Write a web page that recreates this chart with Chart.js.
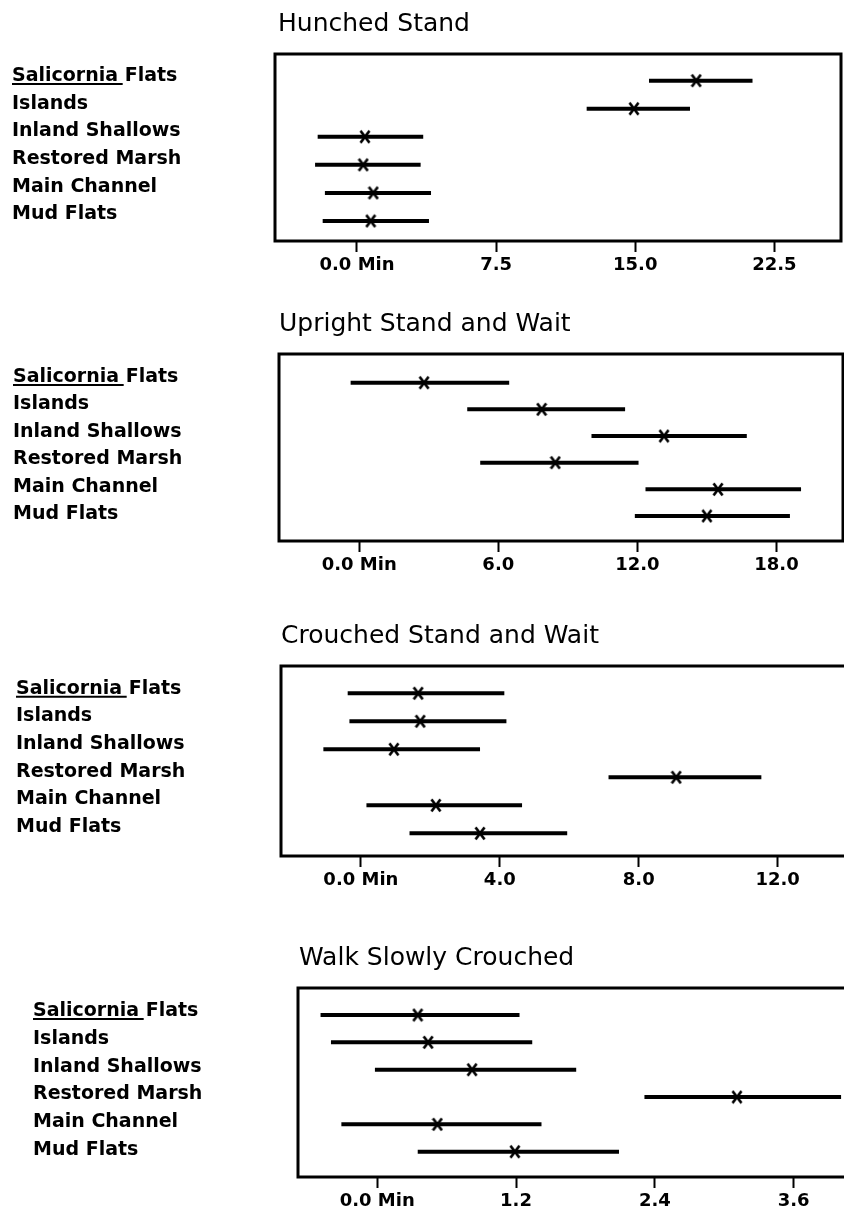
<!DOCTYPE html>
<html>
<head>
<meta charset="utf-8">
<title>Posture durations by habitat</title>
<script src="https://cdn.jsdelivr.net/npm/chart.js@4/dist/chart.umd.min.js"></script>
<style>
  html, body { margin: 0; padding: 0; background: #fff; overflow: hidden; width: 844px; height: 1215px; }
  canvas { position: absolute; left: 0; }
</style>
</head>
<body>
<canvas id="c1" width="900" height="300" style="top:0px"></canvas>
<canvas id="c2" width="900" height="300" style="top:300px"></canvas>
<canvas id="c3" width="900" height="310" style="top:600px"></canvas>
<canvas id="c4" width="900" height="305" style="top:910px"></canvas>
<script>
// ---- data (minutes) ----
const habitats = ['Salicornia Flats', 'Islands', 'Inland Shallows', 'Restored Marsh', 'Main Channel', 'Mud Flats'];

const hunchedLow  = [15.74, 12.38, -2.12, -2.26, -1.73, -1.85];
const hunchedHigh = [21.32, 17.95, 3.57, 3.43, 3.99, 3.88];
const hunchedMean = [18.29, 14.93, 0.43, 0.34, 0.88, 0.74];
const hunchedTicks = [0, 7.5, 15, 22.5];
const hunchedTickLabels = ['0.0 Min', '7.5', '15.0', '22.5'];

const uprightLow  = [-0.37, 4.66, 10.02, 5.22, 12.35, 11.89];
const uprightHigh = [6.47, 11.47, 16.72, 12.05, 19.06, 18.58];
const uprightMean = [2.80, 7.87, 13.15, 8.46, 15.48, 15.00];
const uprightTicks = [0, 6, 12, 18];
const uprightTickLabels = ['0.0 Min', '6.0', '12.0', '18.0'];

const crouchedLow  = [-0.38, -0.33, -1.08, 7.13, 0.16, 1.40];
const crouchedHigh = [4.13, 4.19, 3.43, 11.53, 4.64, 5.94];
const crouchedMean = [1.65, 1.71, 0.95, 9.08, 2.16, 3.43];
const crouchedTicks = [0, 4, 8, 12];
const crouchedTickLabels = ['0.0 Min', '4.0', '8.0', '12.0'];

const walkLow  = [-0.49, -0.40, -0.02, 2.31, -0.31, 0.35];
const walkHigh = [1.23, 1.34, 1.72, 4.01, 1.42, 2.09];
const walkMean = [0.35, 0.44, 0.82, 3.11, 0.52, 1.19];
const walkTicks = [0, 1.2, 2.4, 3.6];
const walkTickLabels = ['0.0 Min', '1.2', '2.4', '3.6'];

// ---- layout of each panel on the page (pixels) ----
const FONT = "'DejaVu Sans', sans-serif";
const CANVAS_W = 900;
const X_AXIS_H = 36;

const panels = [
  { id: 'c1', title: 'Hunched Stand', low: hunchedLow, high: hunchedHigh, mean: hunchedMean,
    ticks: hunchedTicks, tickLabels: hunchedTickLabels,
    top: 0, h: 300, boxL: 275, boxR: 841, boxT: 54, boxB: 241, labelsX: 12, titleX: 278, titleY: 31,
    xMin: -4.42, xMax: 26.09, rowMin: -0.951, rowMax: 5.713, labMin: -0.795, labMax: 5.965 },
  { id: 'c2', title: 'Upright Stand and Wait', low: uprightLow, high: uprightHigh, mean: uprightMean,
    ticks: uprightTicks, tickLabels: uprightTickLabels,
    top: 300, h: 300, boxL: 279, boxR: 843, boxT: 354, boxB: 541, labelsX: 13, titleX: 279, titleY: 331,
    xMin: -3.46, xMax: 20.87, rowMin: -1.077, rowMax: 5.938, labMin: -0.838, labMax: 5.972 },
  { id: 'c3', title: 'Crouched Stand and Wait', low: crouchedLow, high: crouchedHigh, mean: crouchedMean,
    ticks: crouchedTicks, tickLabels: crouchedTickLabels,
    top: 600, h: 310, boxL: 281, boxR: 860, boxT: 666, boxB: 856, labelsX: 16, titleX: 281, titleY: 643,
    xMin: -2.30, xMax: 14.37, rowMin: -0.975, rowMax: 5.81, labMin: -0.821, labMax: 6.048 },
  { id: 'c4', title: 'Walk Slowly Crouched', low: walkLow, high: walkHigh, mean: walkMean,
    ticks: walkTicks, tickLabels: walkTickLabels,
    top: 910, h: 305, boxL: 298, boxR: 870, boxT: 988, boxB: 1177, labelsX: 33, titleX: 299, titleY: 965,
    xMin: -0.685, xMax: 4.26, rowMin: -0.988, rowMax: 5.925, labMin: -0.827, labMax: 5.971 }
];

// X marker used for the means (a bit taller than wide, like the plotter's)
function makeXMark() {
  const c = document.createElement('canvas');
  c.width = 12; c.height = 15;
  const g = c.getContext('2d');
  g.strokeStyle = '#000';
  g.lineWidth = 2.7;
  g.beginPath();
  g.moveTo(1.5, 1.5); g.lineTo(10.5, 13.5);
  g.moveTo(10.5, 1.5); g.lineTo(1.5, 13.5);
  g.stroke();
  return c;
}
const xMark = makeXMark();

// box round the plot area
const framePlugin = {
  id: 'frame',
  beforeDatasetsDraw(chart) {
    const { ctx, chartArea: a } = chart;
    ctx.save();
    ctx.strokeStyle = '#000';
    ctx.lineWidth = 3;
    ctx.strokeRect(a.left, a.top, a.right - a.left, a.bottom - a.top);
    ctx.restore();
  }
};

// panel title and the underlined genus name
const decoPlugin = {
  id: 'deco',
  afterDraw(chart, args, opts) {
    const ctx = chart.ctx;
    ctx.save();
    ctx.fillStyle = '#000';
    ctx.font = '25px ' + FONT;
    ctx.textBaseline = 'alphabetic';
    ctx.textAlign = 'left';
    ctx.fillText(opts.title, opts.x, opts.y);

    const s = chart.scales.yl;
    const y0 = s.getPixelForValue(0);
    ctx.font = 'bold 19px ' + FONT;
    ctx.textBaseline = 'middle';
    const word = habitats[0].split(' ')[0] + ' ';
    const w = ctx.measureText(word).width;
    const d = ctx.measureText('S').actualBoundingBoxDescent;
    ctx.strokeStyle = '#000';
    ctx.lineWidth = 2;
    ctx.beginPath();
    ctx.moveTo(s.left, y0 + d + 3);
    ctx.lineTo(s.left + w - 2, y0 + d + 3);
    ctx.stroke();
    ctx.restore();
  }
};

const tickFont = { family: FONT, size: 18, weight: 'bold' };
const rowFont = { family: FONT, size: 19, weight: 'bold' };

panels.forEach(p => {
  const intervals = habitats.map((name, i) => ({
    label: name,
    data: [{ x: p.low[i], y: i }, { x: p.high[i], y: i }],
    showLine: true,
    borderColor: '#000',
    borderWidth: 4,
    pointRadius: 0,
    yAxisID: 'y'
  }));
  const means = {
    label: 'mean',
    data: habitats.map((_, i) => ({ x: p.mean[i], y: i })),
    pointStyle: xMark,
    pointRadius: 6,
    showLine: false,
    yAxisID: 'y'
  };

  new Chart(document.getElementById(p.id), {
    type: 'scatter',
    data: { datasets: [means, ...intervals] },
    options: {
      responsive: false,
      animation: false,
      events: [],
      layout: {
        padding: {
          left: p.labelsX,
          top: p.boxT - p.top,
          right: CANVAS_W - p.boxR,
          bottom: p.h - (p.boxB - p.top) - X_AXIS_H
        }
      },
      plugins: {
        legend: { display: false },
        tooltip: { enabled: false },
        deco: { title: p.title, x: p.titleX, y: p.titleY - p.top }
      },
      scales: {
        x: {
          type: 'linear',
          min: p.xMin,
          max: p.xMax,
          afterBuildTicks: s => { s.ticks = p.ticks.map(v => ({ value: v })); },
          afterFit: s => { s.height = X_AXIS_H; },
          ticks: {
            autoSkip: false, maxRotation: 0, padding: 3, color: '#000', font: tickFont,
            callback: (v, i) => p.tickLabels[i]
          },
          grid: { display: true, drawOnChartArea: false, drawTicks: true, tickLength: 11, tickWidth: 2, tickColor: '#000' },
          border: { display: false }
        },
        y: { type: 'linear', display: false, reverse: true, min: p.rowMin, max: p.rowMax },
        yl: {
          type: 'linear',
          axis: 'y',
          position: 'left',
          reverse: true,
          min: p.labMin,
          max: p.labMax,
          afterBuildTicks: s => { s.ticks = habitats.map((_, i) => ({ value: i })); },
          afterFit: s => { s.width = p.boxL - p.labelsX; },
          ticks: {
            autoSkip: false, crossAlign: 'far', padding: 0, color: '#000', font: rowFont,
            callback: v => habitats[v]
          },
          grid: { display: false },
          border: { display: false }
        }
      }
    },
    plugins: [framePlugin, decoPlugin]
  });
});
</script>
</body>
</html>
